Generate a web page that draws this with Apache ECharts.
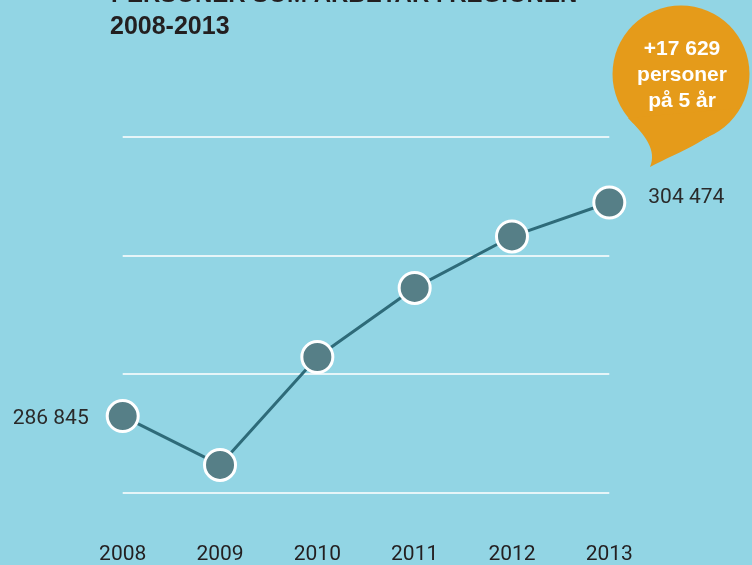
<!DOCTYPE html>
<html>
<head>
<meta charset="utf-8">
<script src="https://cdn.jsdelivr.net/npm/echarts@6/dist/echarts.min.js"></script>
<style>
html,body{margin:0;padding:0;background:#92d5e4;}
#c{width:752px;height:565px;}
</style>
</head>
<body>
<div id="c"></div>
<script>
const years = ['2008', '2009', '2010', '2011', '2012', '2013'];
const persons = [286845, 282810, 291720, 297420, 301670, 304474];
const gridValues = [280500, 290300, 300100, 309900];
const titleLines = ['PERSONER SOM ARBETAR I REGIONEN', '2008-2013'];
const bubbleLines = ['+17 629', 'personer', 'på 5 år'];

function fmt(v) { return String(v).replace(/\B(?=(\d{3})+(?!\d))/g, ' '); }

// speech-bubble tail outline (decoration), sampled cubic curves
function cubic(p0, p1, p2, p3, n) {
  const pts = [];
  for (let i = 0; i <= n; i++) {
    const t = i / n, u = 1 - t;
    pts.push([
      u*u*u*p0[0] + 3*u*u*t*p1[0] + 3*u*t*t*p2[0] + t*t*t*p3[0],
      u*u*u*p0[1] + 3*u*u*t*p1[1] + 3*u*t*t*p2[1] + t*t*t*p3[1]
    ]);
  }
  return pts;
}
const tail = cubic([628, 118], [645, 135], [657, 150], [650, 167], 16)
  .concat(cubic([650, 167], [680, 151], [715, 140], [740, 108], 16).slice(1));

const chart = echarts.init(document.getElementById('c'), null, {renderer: 'canvas'});
const last = persons.length - 1;
const bubbleFont = 'bold 21px "Liberation Sans", Arial, sans-serif';

chart.setOption({
  backgroundColor: '#92d5e4',
  animation: false,
  grid: {left: 122.7, right: 142.7, top: 111.3, bottom: 65.2},
  xAxis: {
    type: 'category', data: years, boundaryGap: false,
    axisLine: {show: false}, axisTick: {show: false}, splitLine: {show: false},
    axisLabel: {margin: 45, fontFamily: 'Roboto', fontSize: 21, color: '#231f20'}
  },
  yAxis: {
    type: 'value', min: 280000, max: 312000,
    axisLine: {show: false}, axisTick: {show: false}, axisLabel: {show: false},
    splitLine: {show: false}
  },
  series: [{
    type: 'line',
    data: persons.map((v, i) => ({
      value: v,
      label: {
        show: i === 0 || i === last,
        position: i === 0 ? 'left' : 'right',
        distance: i === 0 ? 17 : 22,
        offset: i === 0 ? [0, 3] : [0, -5],
        formatter: p => fmt(p.value)
      }
    })),
    lineStyle: {color: '#2e6b79', width: 3},
    symbol: 'circle', symbolSize: 31,
    itemStyle: {color: '#567f87', borderColor: '#ffffff', borderWidth: 3},
    label: {fontFamily: 'Roboto', fontSize: 21, color: '#2a2a2a'},
    z: 5,
    markLine: {
      silent: true, symbol: ['none', 'none'], label: {show: false},
      lineStyle: {color: '#e6f5f8', width: 2, type: 'solid'},
      data: gridValues.map(v => ({yAxis: v})),
      z: 1
    }
  }],
  graphic: [
    {type: 'text', x: 111, y: -5, z: 10,
     style: {text: titleLines[0], font: 'bold 24px "Liberation Sans", Arial, sans-serif', fill: '#231f20', verticalAlign: 'middle'}},
    {type: 'text', x: 110, y: 27, z: 10,
     style: {text: titleLines[1], font: 'bold 25px "Liberation Sans", Arial, sans-serif', fill: '#231f20', verticalAlign: 'middle'}},
    {type: 'circle', shape: {cx: 681, cy: 74, r: 68.5}, style: {fill: '#e59b1a'}, z: 10},
    {type: 'polygon', shape: {points: tail}, style: {fill: '#e59b1a'}, z: 10},
    {type: 'text', z: 11, x: 682, y: 49,
     style: {text: bubbleLines[0], font: bubbleFont, fill: '#ffffff', align: 'center', verticalAlign: 'middle'}},
    {type: 'text', z: 11, x: 682, y: 75,
     style: {text: bubbleLines[1], font: bubbleFont, fill: '#ffffff', align: 'center', verticalAlign: 'middle'}},
    {type: 'text', z: 11, x: 682, y: 101,
     style: {text: bubbleLines[2], font: bubbleFont, fill: '#ffffff', align: 'center', verticalAlign: 'middle'}}
  ]
});
</script>
</body>
</html>
